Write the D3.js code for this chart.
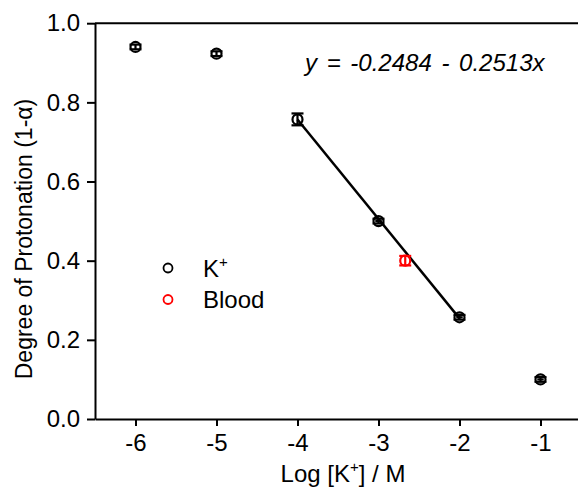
<!DOCTYPE html>
<html>
<head>
<meta charset="utf-8">
<script src="https://cdn.jsdelivr.net/npm/d3@7"></script>
<style>
  body { margin: 0; background: #fff; }
  text { font-family: "Liberation Sans", Arial, sans-serif; }
</style>
</head>
<body>
<div id="chart"></div>
<script>
// K+ calibration points
const kX = [-6, -5, -4, -3, -2, -1];
const kY = [0.940, 0.923, 0.757, 0.500, 0.257, 0.100];
const kErr = [0.006, 0.006, 0.015, 0.006, 0.006, 0.006];
const kXErr = [0, 0, 0, 0.04, 0.04, 0.04];

// blood sample
const bloodX = [-2.67];
const bloodY = [0.400];
const bloodErr = [0.012];

// linear fit over the -4..-2 range
const fitIntercept = -0.2484;
const fitSlope = -0.2513;
const fitRange = [-4, -2];

const xTicks = [-6, -5, -4, -3, -2, -1];
const yTicks = [0, 0.2, 0.4, 0.6, 0.8, 1.0];

const width = 578, height = 491;
const svg = d3.select("#chart").append("svg")
    .attr("width", width)
    .attr("height", height);

const x = d3.scaleLinear().domain([-6.5, -0.5]).range([95, 581]);
const y = d3.scaleLinear().domain([0, 1.0]).range([419, 23.2]);

// axes
const xAxis = svg.append("g")
    .attr("transform", `translate(0,${y(0)})`)
    .call(d3.axisBottom(x).tickValues(xTicks).tickFormat(d3.format("d")).tickSize(7).tickSizeOuter(0).tickPadding(8));
const yAxis = svg.append("g")
    .attr("transform", `translate(${x(-6.5)},0)`)
    .call(d3.axisLeft(y).tickValues(yTicks).tickFormat(d3.format(".1f")).tickSize(8).tickSizeOuter(0).tickPadding(7));
[xAxis, yAxis].forEach(g => {
  g.selectAll("path, line").attr("stroke", "#000").attr("stroke-width", 2);
  g.selectAll("text").attr("font-size", "24px").attr("fill", "#000")
    .style("font-family", '"Liberation Sans", Arial, sans-serif');
});
xAxis.selectAll("text").text(d => d < 0 ? "-" + Math.abs(d) : d);

// top frame line
svg.append("line")
    .attr("x1", x(-6.5)).attr("x2", width + 5)
    .attr("y1", y(1.0)).attr("y2", y(1.0))
    .attr("stroke", "#000").attr("stroke-width", 2);

// axis titles
const xTitle = svg.append("text")
    .attr("x", 343).attr("y", 482)
    .attr("text-anchor", "middle")
    .attr("font-size", "24px");
xTitle.append("tspan").text("Log [K");
xTitle.append("tspan").attr("font-size", "15px").attr("dy", -10).text("+");
xTitle.append("tspan").attr("dy", 10).text("] / M");

svg.append("text")
    .attr("transform", "translate(32,239) rotate(-90)")
    .attr("text-anchor", "middle")
    .attr("font-size", "23px")
    .text("Degree of Protonation (1-α)");

// fit line
svg.append("line")
    .attr("x1", x(fitRange[0])).attr("y1", y(fitIntercept + fitSlope * fitRange[0]))
    .attr("x2", x(fitRange[1])).attr("y2", y(fitIntercept + fitSlope * fitRange[1]))
    .attr("stroke", "#000").attr("stroke-width", 2.5);

// equation
svg.append("text")
    .attr("x", 305).attr("y", 71)
    .attr("font-size", "24px")
    .attr("font-style", "italic")
    .style("word-spacing", "3px")
    .text("y = -0.2484 - 0.2513x");

function drawPoints(xs, ys, errs, xerrs, color) {
  const g = svg.append("g").attr("stroke", color).attr("fill", "none").attr("stroke-width", 2.2);
  xs.forEach((xv, i) => {
    const cx = x(xv), cy = y(ys[i]);
    const top = y(ys[i] + errs[i]), bot = y(ys[i] - errs[i]);
    g.append("line").attr("x1", cx).attr("x2", cx).attr("y1", top).attr("y2", bot);
    g.append("line").attr("x1", cx - 6).attr("x2", cx + 6).attr("y1", top).attr("y2", top);
    g.append("line").attr("x1", cx - 6).attr("x2", cx + 6).attr("y1", bot).attr("y2", bot);
    if (xerrs && xerrs[i] > 0) {
      g.append("line").attr("x1", x(xv - xerrs[i])).attr("x2", x(xv + xerrs[i])).attr("y1", cy).attr("y2", cy);
    }
    g.append("circle").attr("cx", cx).attr("cy", cy).attr("r", 5);
  });
}
drawPoints(kX, kY, kErr, kXErr, "#000");
drawPoints(bloodX, bloodY, bloodErr, null, "#ff0000");

// legend
const legendItems = [
  {label: "K", sup: "+", color: "#000"},
  {label: "Blood", sup: "", color: "#ff0000"}
];
const legend = svg.append("g");
legendItems.forEach((d, i) => {
  const ly = 268 + i * 31.5;
  legend.append("circle").attr("cx", 168).attr("cy", ly).attr("r", 4.5)
      .attr("fill", "none").attr("stroke", d.color).attr("stroke-width", 1.8);
  const t = legend.append("text").attr("x", 203).attr("y", ly + 8.5).attr("font-size", "24px");
  t.append("tspan").text(d.label);
  if (d.sup) t.append("tspan").attr("font-size", "15px").attr("dy", -10).text(d.sup);
});
</script>
</body>
</html>
